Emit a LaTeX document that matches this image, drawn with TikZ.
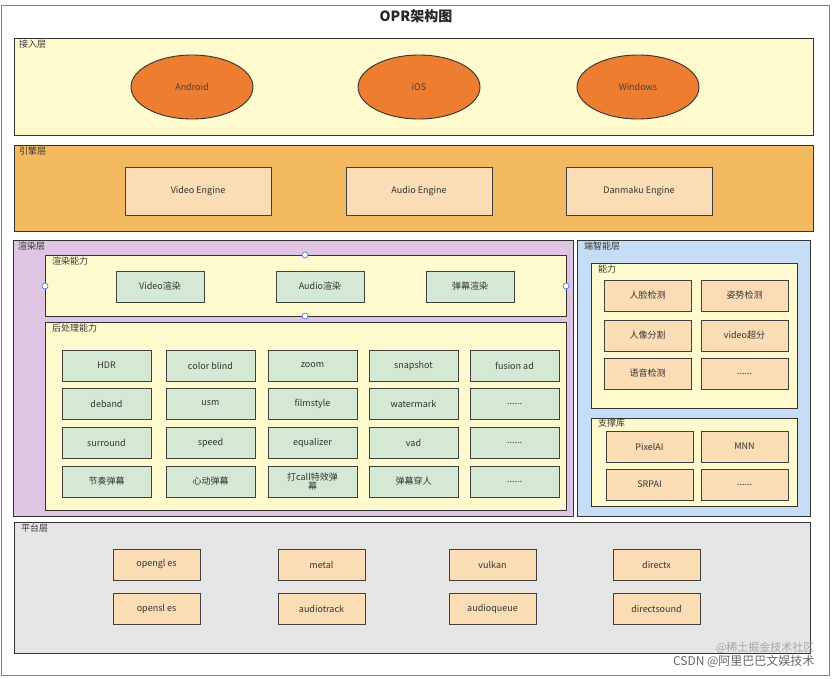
\documentclass[tikz,border=0pt]{standalone}
\usepackage{fontspec}
\usetikzlibrary{shapes.geometric}
\setmainfont{Noto Sans CJK SC}
\newcommand\mysixdots{......}
\begin{document}
\begin{tikzpicture}[x=1pt,y=-1pt,
  layer/.style={draw=black!80,line width=0.8pt},
  lbl/.style={anchor=north west,font=\fontsize{9}{10}\selectfont,text=black!80,inner sep=1pt},
  box/.style={draw=black!75,line width=0.9pt,font=\fontsize{9}{10}\selectfont,text=black!80,align=center,inner sep=1pt},
  gbox/.style={box,fill={rgb,255:red,213;green,232;blue,212}},
  obox/.style={box,fill={rgb,255:red,250;green,221;blue,181}},
  ell/.style={draw=black!80,line width=0.9pt,fill={rgb,255:red,237;green,125;blue,49},ellipse,minimum width=122pt,minimum height=64pt,font=\fontsize{9}{10}\selectfont,text=black!75},
  hdl/.style={circle,draw={rgb,255:red,60;green,110;blue,220},fill=white,inner sep=0pt,minimum size=6pt,line width=0.6pt}]
\useasboundingbox (0,0) rectangle (832,678);
\fill[white] (0,0) rectangle (832,678);
\draw[black!50,line width=0.8pt] (1,5) rectangle (829,675);
\node[font=\bfseries\fontsize{14}{16}\selectfont,text=black!85] (title) at (416,16) {OPR架构图};
% access layer
\draw[layer,fill={rgb,255:red,255;green,250;blue,205}] (14,38) rectangle (813,135);
\node[lbl] (l1) at (18,39) {接入层};
\foreach \n/\t/\x in {and/Android/192,ios/iOS/419,win/Windows/638}
  \node[ell] (\n) at (\x,87) {\t};
% engine layer
\draw[layer,fill={rgb,255:red,243;green,185;blue,96}] (14,145) rectangle (813,231);
\node[lbl] (l2) at (18,146) {引擎层};
\foreach \n/\t/\x in {ve/Video Engine/125,ae/Audio Engine/346,de/Danmaku Engine/566}
  \node[obox,minimum width=146pt,minimum height=48pt] (\n) at (\x+73,191) {\t};
% render layer
\draw[layer,fill={rgb,255:red,224;green,196;blue,228}] (13,240) rectangle (573,516);
\node[lbl] (l3) at (17,241) {渲染层};
\draw[layer,fill={rgb,255:red,255;green,250;blue,205}] (45,255) rectangle (566,316);
\node[lbl] (l3a) at (51,256) {渲染能力};
\foreach \n/\t/\x in {vr/Video渲染/116,ar/Audio渲染/276,dr/弹幕渲染/426}
  \node[gbox,minimum width=88pt,minimum height=31pt] (\n) at (\x+44,286.5) {\t};
\node[hdl] (h1) at (305,255) {};
\node[hdl] (h2) at (45,286) {};
\node[hdl] (h3) at (566,286) {};
\node[hdl] (h4) at (305,316) {};
\draw[layer,fill={rgb,255:red,255;green,250;blue,205}] (45,322) rectangle (566,510);
\node[lbl] (l3b) at (51,323) {后处理能力};
\foreach \row/\y in {0/350,1/388,2/427,3/466}{
  \foreach \col/\x in {0/62,1/166,2/268,3/369,4/470}{
    \coordinate (p\row\col) at (\x+44.5,\y+15.5);
  }}
\foreach \t/\r/\c in {HDR/0/0,color blind/0/1,zoom/0/2,snapshot/0/3,fusion ad/0/4,
  deband/1/0,usm/1/1,filmstyle/1/2,watermark/1/3,\mysixdots/1/4,
  surround/2/0,speed/2/1,equalizer/2/2,vad/2/3,\mysixdots/2/4,
  节奏弹幕/3/0,心动弹幕/3/1,{打call特效弹\\幕}/3/2,弹幕穿人/3/3,\mysixdots/3/4}
  \node[gbox,minimum width=89pt,minimum height=31pt,font=\fontsize{9}{9.5}\selectfont] (b\r\c) at (p\r\c) {\t};
% edge AI layer
\draw[layer,fill={rgb,255:red,198;green,221;blue,245}] (577,240) rectangle (810,516);
\node[lbl] (l4) at (583,241) {端智能层};
\draw[layer,fill={rgb,255:red,255;green,250;blue,205}] (591,263) rectangle (797,408);
\node[lbl] (l4a) at (597,264) {能力};
\foreach \t/\n/\x/\y in {人脸检测/c1/604/280,姿势检测/c2/701/280,人像分割/c3/604/320,video超分/c4/701/320,语音检测/c5/604/358,\mysixdots/c6/701/358}
  \node[obox,minimum width=87pt,minimum height=31pt] (\n) at (\x+43.5,\y+15.5) {\t};
\draw[layer,fill={rgb,255:red,255;green,250;blue,205}] (591,418) rectangle (797,506);
\node[lbl] (l4b) at (597,418) {支撑库};
\foreach \t/\n/\x/\y in {PixelAI/s1/606/431,MNN/s2/701/431,SRPAI/s3/606/469,\mysixdots/s4/701/469}
  \node[obox,minimum width=87pt,minimum height=31pt] (\n) at (\x+43.5,\y+15.5) {\t};
% platform layer
\draw[layer,fill={rgb,255:red,229;green,229;blue,229}] (14,522) rectangle (810,653);
\node[lbl] (l5) at (20,523) {平台层};
\foreach \t/\n/\x/\y in {opengl es/q1/113/549,metal/q2/278/549,vulkan/q3/449/549,directx/q4/613/549,
  opensl es/q5/113/593,audiotrack/q6/278/593,audioqueue/q7/449/593,directsound/q8/613/593}
  \node[obox,minimum width=87pt,minimum height=31pt] (\n) at (\x+43.5,\y+15.5) {\t};
% watermarks
\node[font=\fontsize{11}{12}\selectfont,text=black!35,anchor=east] (wm1) at (818,648) {@稀土掘金技术社区};
\node[font=\fontsize{12}{13}\selectfont,text=black!60,anchor=east] (wm2) at (818,661) {CSDN @阿里巴巴文娱技术};
\end{tikzpicture}
\end{document}
